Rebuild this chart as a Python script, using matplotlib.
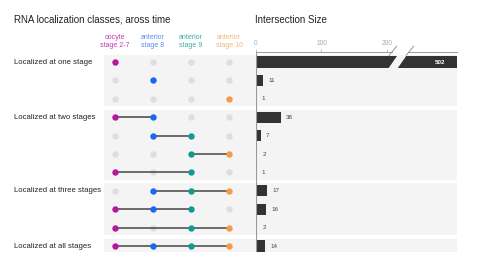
import numpy as np
import matplotlib.pyplot as plt
from matplotlib.patches import Polygon

plt.rcParams["font.family"] = ["Liberation Sans", "DejaVu Sans"]

# ---- data ----
stages = ["oocyte\nstage 2-7", "anterior\nstage 8", "anterior\nstage 9", "anterior\nstage 10"]
stage_colors = ["#b8169c", "#1b66f5", "#109a90", "#f59a48"]
header_colors = ["#c43ab0", "#5a8cf5", "#3aaea6", "#f8b47a"]

# membership of each intersection row (indices into stages)
memberships = [[0], [1], [3],
               [0, 1], [1, 2], [2, 3], [0, 2],
               [1, 2, 3], [0, 1, 2], [0, 2, 3],
               [0, 1, 2, 3]]
counts = [502, 11, 1, 38, 7, 2, 1, 17, 16, 2, 14]

group_labels = ["Localized at one stage", "Localized at two stages",
                "Localized at three stages", "Localized at all stages"]
group_rows = [[0, 1, 2], [3, 4, 5, 6], [7, 8, 9], [10]]

# ---- layout (pixels of a 500x268 figure) ----
W, H = 500, 268
fig = plt.figure(figsize=(W / 100, H / 100), dpi=100)

def px_axes(x0, y0, x1, y1):
    return fig.add_axes([x0 / W, 1 - y1 / H, (x1 - x0) / W, (y1 - y0) / H])

ytop, ybot = 52, 252
row0, rowstep = 62, 18.4
ylim = ((ybot - row0) / rowstep, (ytop - row0) / rowstep)

col0, colstep = 115, 38
ax_dot = px_axes(104, ytop, 256, ybot)
ax_dot.set_xlim((104 - col0) / colstep, (256 - col0) / colstep)
ax_dot.set_ylim(*ylim)

xmax_bar = 307
ax_bar = px_axes(256, ytop, 457, ybot)
ax_bar.set_xlim(0, xmax_bar)
ax_bar.set_ylim(*ylim)

bg = "#f4f4f4"
for ax in (ax_dot, ax_bar):
    ax.set_facecolor("none")
    for s in ax.spines.values():
        s.set_visible(False)
    for rows in group_rows:
        ax.axhspan(rows[0] - 0.4, rows[-1] + 0.4, color=bg, lw=0, zorder=0)

ax_dot.set_xticks([])
ax_dot.set_yticks([])

# ---- dot matrix ----
ncol = len(stages)
for i, mem in enumerate(memberships):
    if len(mem) > 1:
        ax_dot.plot([min(mem), max(mem)], [i, i], color="#444444", lw=1.1, zorder=2)
    for j in range(ncol):
        if j in mem:
            ax_dot.plot(j, i, "o", ms=4.6, color=stage_colors[j], mec="none", zorder=3)
        else:
            ax_dot.plot(j, i, "o", ms=4.6, color="#dedede", mec="none", zorder=1)

for j, name in enumerate(stages):
    ax_dot.text(j, -0.7, name, ha="center", va="bottom", fontsize=5.0,
                color=header_colors[j], linespacing=1.3)

for label, rows in zip(group_labels, group_rows):
    fig.text(14 / W, 1 - (row0 + rows[0] * rowstep) / H, label,
             ha="left", va="center", fontsize=5.6, color="#222222")

# ---- bars ----
brk_lo, brk_hi = 202, 216
shown = [min(c, xmax_bar) for c in counts]
ax_bar.barh(np.arange(len(counts)), shown, height=0.6, color="#333333", zorder=2)
for i, c in enumerate(counts):
    if c > brk_lo:
        ax_bar.add_patch(Polygon([[brk_lo, i + 0.36], [brk_hi, i + 0.36],
                                  [brk_hi + 14, i - 0.36], [brk_lo + 14, i - 0.36]],
                                 closed=True, color=bg, lw=0, zorder=3))
        ax_bar.text(xmax_bar - 18, i, str(c), ha="right", va="center",
                    fontsize=4.5, color="white", fontweight="bold", zorder=4)
    else:
        ax_bar.text(c + 8, i, str(c), ha="left", va="center",
                    fontsize=4.5, color="#444444", zorder=4)

ax_bar.set_yticks([])
ax_bar.xaxis.tick_top()
ax_bar.set_xticks([0, 100, 200])
ax_bar.tick_params(axis="x", direction="out", length=2.5, width=0.5,
                   colors="#aaaaaa", labelsize=4.8, pad=1)
ax_bar.axvline(0, color="#999999", lw=0.8, zorder=5)
# top axis line with a break
ax_bar.plot([0, brk_lo + 6], [ylim[1], ylim[1]], color="#999999", lw=0.7,
            clip_on=False)
ax_bar.plot([brk_hi + 16, xmax_bar], [ylim[1], ylim[1]], color="#999999", lw=0.7,
            clip_on=False)
for xb in (brk_lo + 1, brk_hi + 13):
    ax_bar.plot([xb, xb + 12], [ylim[1] + 0.2, ylim[1] - 0.32], color="#888888",
                lw=0.6, clip_on=False)

# ---- titles ----
fig.text(14 / W, 1 - 20 / H, "RNA localization classes, aross time",
         ha="left", va="center", fontsize=7.0, color="#222222")
fig.text(255 / W, 1 - 20 / H, "Intersection Size",
         ha="left", va="center", fontsize=7.0, color="#222222")

fig.savefig("out.png", dpi=100)
